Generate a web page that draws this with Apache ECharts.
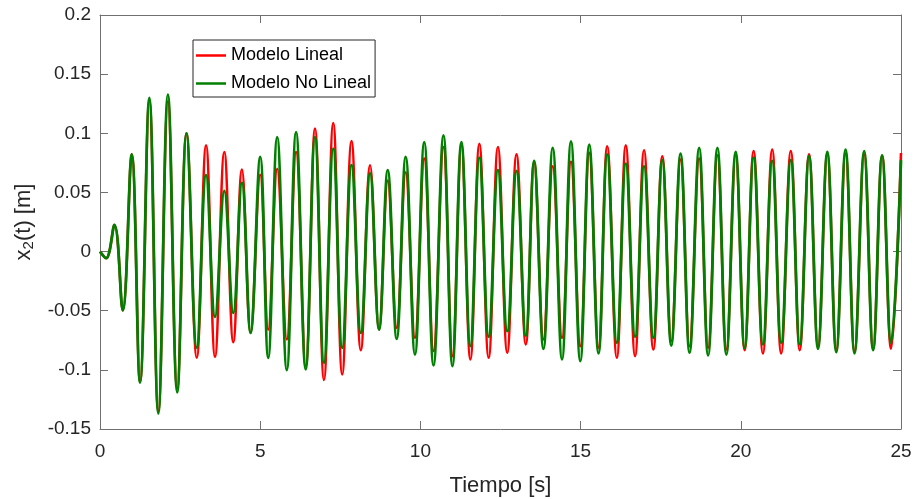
<!DOCTYPE html>
<html>
<head>
<meta charset="utf-8">
<script src="https://cdn.jsdelivr.net/npm/echarts@6/dist/echarts.min.js"></script>
<style>
  html, body { margin: 0; padding: 0; background: #fff; }
  #chart-1 { width: 914px; height: 499px; }
</style>
</head>
<body>
<div id="chart-1"></div>
<script>
// instantes de los picos y valles [s]
var tiempo = [0, 0.19, 0.45, 0.71, 0.99, 1.25, 1.54, 1.82, 2.12, 2.41,
    2.70, 3.02, 3.31, 3.59, 3.88, 4.16, 4.43, 4.70, 5.00, 5.25,
    5.53, 5.83, 6.12, 6.42, 6.71, 6.99, 7.28, 7.56, 7.85, 8.14,
    8.43, 8.71, 8.98, 9.26, 9.54, 9.83, 10.12, 10.41, 10.72, 11.00,
    11.28, 11.56, 11.84, 12.13, 12.42, 12.71, 13.00, 13.29, 13.55, 13.84,
    14.13, 14.42, 14.70, 14.99, 15.27, 15.56, 15.83, 16.13, 16.41, 16.70,
    16.98, 17.27, 17.55, 17.83, 18.12, 18.40, 18.70, 18.98, 19.27, 19.55,
    19.84, 20.12, 20.40, 20.69, 20.98, 21.26, 21.56, 21.84, 22.13, 22.41,
    22.70, 22.98, 23.27, 23.55, 23.85, 24.13, 24.41, 24.69, 25.00];

// x2(t) modelo lineal [m]
var modeloLineal = [0, -0.0056, 0.0225, -0.0497, 0.0822, -0.110, 0.128, -0.135, 0.127, -0.116,
    0.100, -0.0898, 0.0898, -0.0889, 0.0842, -0.0766, 0.0693, -0.0687, 0.065, -0.066,
    0.070, -0.0743, 0.0842, -0.097, 0.1039, -0.1086, 0.1086, -0.1038, 0.0934, -0.0833,
    0.073, -0.0659, 0.060, -0.0645, 0.067, -0.0729, 0.0786, -0.0842, 0.0884, -0.0884,
    0.0898, -0.0912, 0.0912, -0.0898, 0.0884, -0.0855, 0.0822, -0.0785, 0.075, -0.0743,
    0.0721, -0.0729, 0.0758, -0.080, 0.0834, -0.0813, 0.089, -0.0898, 0.0898, -0.0884,
    0.0856, -0.0828, 0.0806, -0.0757, 0.0778, -0.080, 0.0786, -0.0813, 0.0814, -0.0828,
    0.0814, -0.0833, 0.085, -0.0861, 0.0862, -0.0861, 0.085, -0.0833, 0.0822, -0.080,
    0.0822, -0.0828, 0.0828, -0.0842, 0.0822, -0.082, 0.081, -0.0822, 0.0834];

// x2(t) modelo no lineal [m]
var modeloNoLineal = [0, -0.0056, 0.0225, -0.0497, 0.0822, -0.1108, 0.130, -0.137, 0.1327, -0.119,
    0.100, -0.0813, 0.0646, -0.0552, 0.0513, -0.0519, 0.058, -0.0687, 0.080, -0.0898,
    0.0968, -0.1001, 0.101, -0.0996, 0.0968, -0.094, 0.087, -0.0813, 0.073, -0.0687,
    0.066, -0.0659, 0.0688, -0.0738, 0.080, -0.087, 0.0926, -0.0962, 0.0982, -0.0968,
    0.0926, -0.0799, 0.0795, -0.072, 0.0688, -0.0673, 0.0682, -0.071, 0.0766, -0.0822,
    0.0876, -0.0912, 0.0932, -0.0926, 0.0904, -0.0861, 0.0822, -0.0771, 0.0744, -0.072,
    0.0721, -0.0729, 0.0772, -0.0794, 0.0828, -0.0855, 0.0876, -0.0878, 0.0876, -0.087,
    0.0842, -0.0813, 0.0795, -0.0785, 0.0766, -0.0771, 0.0772, -0.0785, 0.0806, -0.0822,
    0.0842, -0.085, 0.0862, -0.0861, 0.085, -0.0833, 0.0814, -0.0771, 0.0772];

var nombres = ['Modelo Lineal', 'Modelo No Lineal'];

function pares(t, v) {
    var out = [];
    for (var i = 0; i < t.length; i++) out.push([t[i], v[i]]);
    return out;
}

var fuente = 'Liberation Sans';
var ejeColor = '#707070';
var textoColor = '#262626';

var myChart = echarts.init(document.getElementById('chart-1'));
var option = {
    animation: false,
    color: ['#ff0000', '#008000'],
    textStyle: { fontFamily: fuente },
    grid: {
        left: 100,
        right: 13,
        top: 15,
        bottom: 70,
        outerBoundsMode: 'none'
    },
    legend: {
        data: nombres,
        orient: 'vertical',
        left: 193,
        top: 40,
        icon: 'rect',
        itemWidth: 30,
        itemHeight: 2.5,
        itemGap: 9,
        itemTextGap: 3,
        padding: [6, 4, 4, 3],
        backgroundColor: '#fff',
        borderColor: '#262626',
        borderWidth: 1,
        borderRadius: 0,
        textStyle: {
            fontFamily: fuente,
            fontSize: 18,
            lineHeight: 19,
            color: '#000'
        }
    },
    xAxis: [
        {
            type: 'value',
            min: 0,
            max: 25,
            interval: 5,
            name: 'Tiempo [s]',
            nameLocation: 'middle',
            nameGap: 46,
            nameTextStyle: { fontFamily: fuente, fontSize: 22, color: textoColor },
            axisLine: { onZero: false, lineStyle: { color: ejeColor, width: 1 } },
            axisTick: { inside: true, length: 8, lineStyle: { color: ejeColor } },
            axisLabel: { margin: 13, fontFamily: fuente, fontSize: 19, color: textoColor },
            splitLine: { show: false }
        },
        {
            type: 'value',
            position: 'top',
            min: 0,
            max: 25,
            interval: 5,
            axisLine: { onZero: false, lineStyle: { color: ejeColor, width: 1 } },
            axisTick: { inside: true, length: 8, lineStyle: { color: ejeColor } },
            axisLabel: { show: false },
            splitLine: { show: false }
        }
    ],
    yAxis: [
        {
            type: 'value',
            min: -0.15,
            max: 0.2,
            interval: 0.05,
            name: '{a|x}{b|2}{a|(t) [m]}',
            nameLocation: 'middle',
            nameGap: 60,
            nameTextStyle: {
                color: textoColor,
                rich: {
                    a: { fontFamily: fuente, fontSize: 22, color: textoColor, lineHeight: 26, verticalAlign: 'middle' },
                    b: { fontFamily: fuente, fontSize: 15, color: textoColor, lineHeight: 26, verticalAlign: 'bottom', padding: [12, 0, 0, 0] }
                }
            },
            axisLine: { onZero: false, lineStyle: { color: ejeColor, width: 1 } },
            axisTick: { inside: true, length: 8, lineStyle: { color: ejeColor } },
            axisLabel: {
                margin: 9,
                fontFamily: fuente,
                fontSize: 19,
                color: textoColor,
                formatter: function (v) { return String(Math.round(v * 100) / 100); }
            },
            splitLine: { show: false }
        },
        {
            type: 'value',
            position: 'right',
            min: -0.15,
            max: 0.2,
            interval: 0.05,
            axisLine: { onZero: false, lineStyle: { color: ejeColor, width: 1 } },
            axisTick: { inside: true, length: 8, lineStyle: { color: ejeColor } },
            axisLabel: { show: false },
            splitLine: { show: false }
        }
    ],
    series: [
        {
            name: nombres[0],
            type: 'line',
            data: pares(tiempo, modeloLineal),
            smooth: 0.4,
            showSymbol: false,
            lineStyle: { width: 2.6, color: '#ff0000' }
        },
        {
            name: nombres[1],
            type: 'line',
            data: pares(tiempo, modeloNoLineal),
            smooth: 0.4,
            showSymbol: false,
            lineStyle: { width: 2.8, color: '#008000' }
        }
    ]
};
myChart.setOption(option);
</script>
</body>
</html>
